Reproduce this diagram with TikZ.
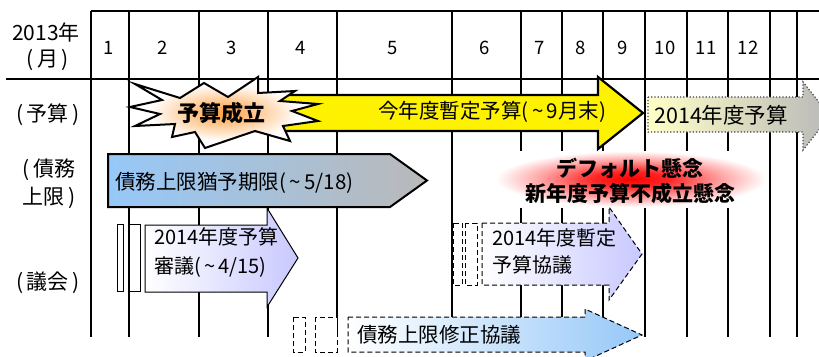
\documentclass[tikz,border=0pt]{standalone}
\usepackage{fontspec}
\setmainfont{Noto Sans CJK JP}
\newcommand\fsz[1]{\fontsize{#1}{#1}\selectfont}
\newcommand\tl{\,\textasciitilde\,}
\definecolor{lblue}{RGB}{150,200,248}
\definecolor{gryA}{RGB}{185,185,185}
\definecolor{lav}{RGB}{200,200,255}
\definecolor{lyel}{RGB}{255,255,200}
\pgfdeclareradialshading{glow}{\pgfpoint{0bp}{0bp}}{color(0bp)=(red); color(7bp)=(red!85); color(17bp)=(red!35); color(25bp)=(white); color(50bp)=(white)}
\pgfdeclareradialshading{burst}{\pgfpoint{0bp}{0bp}}{color(0bp)=(orange!75); color(8bp)=(orange!45); color(20bp)=(white); color(50bp)=(white)}
\begin{document}
\begin{tikzpicture}[x=1pt,y=-1pt,
  grid/.style={line width=2pt},
  lbl/.style={inner sep=0pt, font=\fsz{21}},
  mon/.style={inner sep=0pt, font=\fsz{18.5}},
  txt/.style={inner sep=0pt, anchor=west, font=\fsz{20.5}, align=left},
  smallbox/.style={draw=black, fill=white, line width=1pt},
  dashbox/.style={draw=black, fill=white, line width=1pt, dash pattern=on 5pt off 3pt},
]
\clip (0,0) rectangle (819,356);
\fill[white] (0,0) rectangle (819,356);
% grid
\draw[grid] (91,11) -- (819,11);
\draw[grid] (6,79) -- (819,79);
\foreach \x in {91,129,199,268,337,452,521,562,603,645,687,728,770,797}
  \draw[grid] (\x,11) -- (\x,337);
% header labels
\node[lbl] (yr) at (46,32) {2013年};
\node[lbl] (mo) at (48,60) {(\,月\,)};
\foreach \x/\m in {109/1,163/2,232/3,301/4,393/5,485/6,540/7,581/8,623/9,665/10,706/11,748/12}
  \node[mon] (m\m) at (\x,48) {\m};
\node[lbl] (rb) at (48,115) {(\,予算\,)};
\node[lbl] (rd1) at (49,170) {(\,債務};
\node[lbl] (rd2) at (49,198) {上限\,)};
\node[lbl] (rp) at (48,283) {(\,議会\,)};
% red glow
\shade[shading=glow] (496,151) rectangle (766,207);
\node[font=\bfseries\fontsize{21}{25}\selectfont, align=center, inner sep=0pt] (warn) at (630,181) {デフォルト懸念\\新年度予算不成立懸念};
% yellow arrow
\draw[fill=yellow, line width=2.2pt, line join=miter]
  (250,95) -- (598,95) -- (598,77) -- (643,113) -- (598,149) -- (598,131) -- (250,131) -- cycle;
\node[txt] (ty) at (378,112) {今年度暫定予算(\tl 9月末)};
% explosion
\draw[shading=burst, line width=2pt, line join=miter]
  (135,84) -- (180,98) -- (204,83) -- (228,97) -- (258,77) -- (258,93) -- (295,91) -- (280,101)
  -- (318,104) -- (292,111) -- (318,121) -- (283,126) -- (290,141) -- (255,131) -- (205,148)
  -- (195,132) -- (172,137) -- (175,124) -- (135,126) -- (160,114) -- (130,107) -- (162,100) -- cycle;
\node[font=\bfseries\fsz{22}, inner sep=0pt] (ok) at (221,113) {予算成立};
% gray dotted arrow
\draw[left color=lyel, right color=gryA, draw=black!75, line width=1.2pt, dotted]
  (648,97) -- (803,97) -- (803,82) -- (830,116) -- (803,150) -- (803,132) -- (648,132) -- cycle;
\node[txt, font=\fsz{21.5}] (tg) at (654,115) {2014年度予算};
% blue arrow
\draw[left color=lblue, right color=gryA, line width=2pt, line join=miter]
  (108,154) -- (390,154) -- (427,180.5) -- (390,207) -- (108,207) -- cycle;
\node[txt] (tb) at (115,183) {債務上限猶予期限(\tl 5/18)};
% parliament: budget deliberation
\draw[smallbox] (117,224) rectangle (123,291);
\draw[smallbox] (129,224) rectangle (140,291);
\draw[left color=white, right color=lav, line width=1pt]
  (145,225) -- (267,225) -- (267,208) -- (298,258) -- (267,307) -- (267,292) -- (145,292) -- cycle;
\node[txt, font=\fontsize{20}{29}\selectfont] (tl) at (154,253) {2014年度予算\\審議(\tl 4/15)};
% provisional budget talks
\draw[dashbox] (453,223) rectangle (462,285);
\draw[dashbox] (465,223) rectangle (477,285);
\draw[left color=white, right color=lav, line width=1pt, dash pattern=on 5pt off 3pt]
  (482,223) -- (609,223) -- (609,207) -- (642,254) -- (609,300) -- (609,285) -- (482,285) -- cycle;
\node[txt, font=\fontsize{20}{27}\selectfont] (tm) at (492,251) {2014年度暫定\\予算協議};
% debt ceiling revision talks
\draw[dashbox] (293,317) rectangle (305,352);
\draw[dashbox] (315,317) rectangle (337,352);
\draw[left color=white, right color=lblue, line width=1pt, dash pattern=on 5pt off 3pt]
  (348,317) -- (585,317) -- (585,309) -- (642,335) -- (585,361) -- (585,352) -- (348,352) -- cycle;
\node[txt] (tn) at (357,335) {債務上限修正協議};
\end{tikzpicture}
\end{document}
